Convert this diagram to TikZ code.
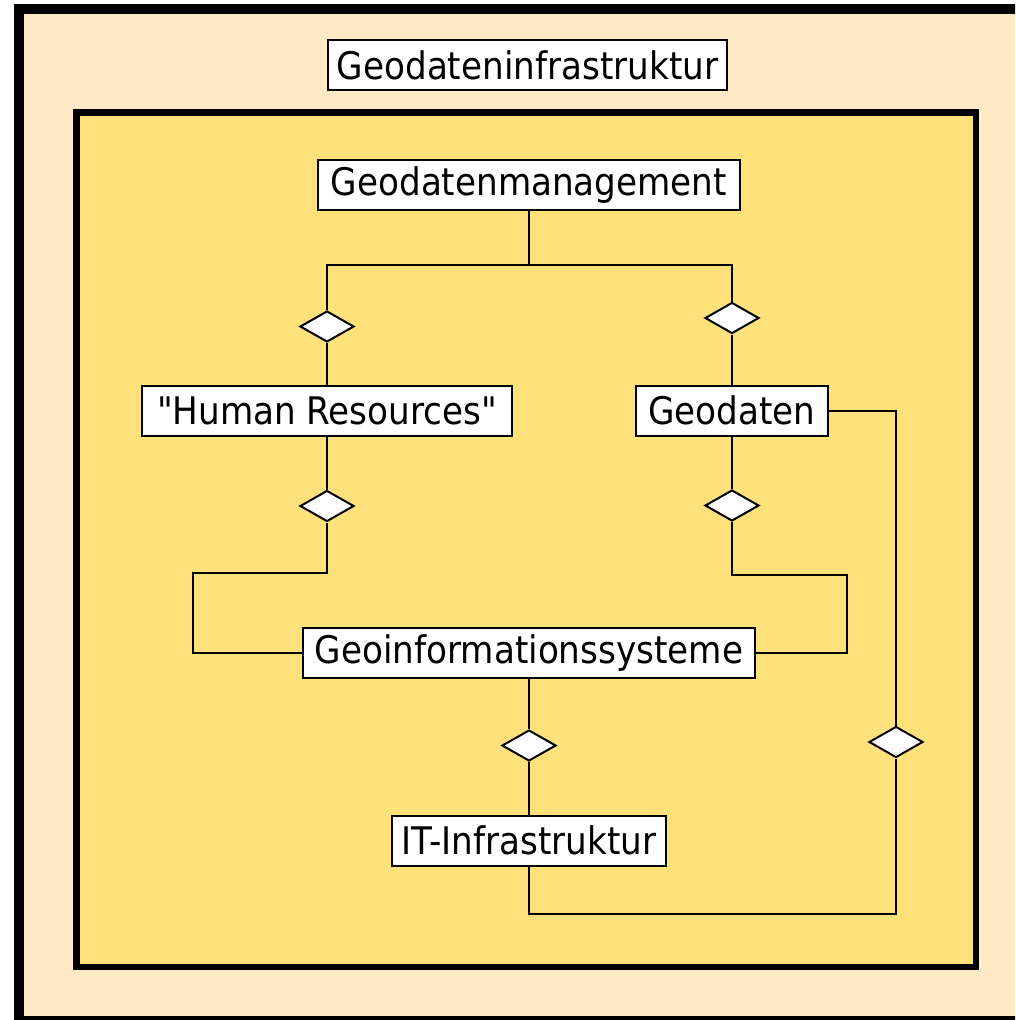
\documentclass[tikz,border=0pt]{standalone}
\usepackage{fontspec}
\setmainfont{DejaVu Sans Condensed}[Ligatures=TeXOff]
\usetikzlibrary{shapes.geometric}
\definecolor{outerfill}{HTML}{FFE9C6}
\definecolor{innerfill}{HTML}{FFE17C}
\begin{document}
\begin{tikzpicture}[x=1pt,y=-1pt,
  label box/.style={draw=black,fill=white,line width=2pt,inner xsep=2pt,inner ysep=0pt,
    minimum height=50pt,font=\fontsize{38}{42}\selectfont},
  aggr/.style={draw=black,fill=white,diamond,line width=2pt,inner sep=0pt,
    minimum width=54pt,minimum height=31pt},
  link/.style={line width=2pt}]
  \clip (0,0) rectangle (1015,1020);
  \fill[white] (0,0) rectangle (1015,1020);
  % frames
  \draw[line width=10pt,fill=outerfill] (19,8.5) rectangle (1040,1021);
  \draw[line width=6.5pt,fill=innerfill] (76.5,112.5) rectangle (976,967);
  % boxes
  \node[label box,minimum width=399pt] (gdi) at (527.5,65) {Geodateninfrastruktur};
  \node[label box,minimum width=422pt] (gm) at (529,185) {Geodatenmanagement};
  \node[label box,minimum width=370pt] (hr) at (327,410.5) {"Human Resources"};
  \node[label box,minimum width=192pt] (gd) at (732,410.5) {Geodaten};
  \node[label box,minimum width=452pt] (gis) at (529,653) {Geoinformationssysteme};
  \node[label box,minimum width=274pt] (it) at (529,840.5) {IT-Infrastruktur};
  % aggregation diamonds
  \node[aggr] (d1) at (327,326.5) {};
  \node[aggr] (d2) at (732,318) {};
  \node[aggr] (d3) at (327,506) {};
  \node[aggr] (d4) at (732,505.5) {};
  \node[aggr] (d5) at (529,745.5) {};
  \node[aggr] (d6) at (896,742) {};
  % bend points
  \coordinate (j1) at (529,265);
  \coordinate (b1) at (193,573);
  \coordinate (b2) at (847,575);
  \coordinate (b3) at (529,914);
  % connectors
  \draw[link] (gm.south) -- (j1) -| (d1.north);
  \draw[link] (j1) -| (d2.north);
  \draw[link] (d1.south) -- (hr.north);
  \draw[link] (d2.south) -- (gd.north);
  \draw[link] (hr.south) -- (d3.north);
  \draw[link] (gd.south) -- (d4.north);
  \draw[link] (d3.south) |- (b1) |- (gis.west);
  \draw[link] (d4.south) |- (b2) |- (gis.east);
  \draw[link] (gis.south) -- (d5.north);
  \draw[link] (d5.south) -- (it.north);
  \draw[link] (gd.east) -| (d6.north);
  \draw[link] (d6.south) |- (b3) -- (it.south);
\end{tikzpicture}
\end{document}
